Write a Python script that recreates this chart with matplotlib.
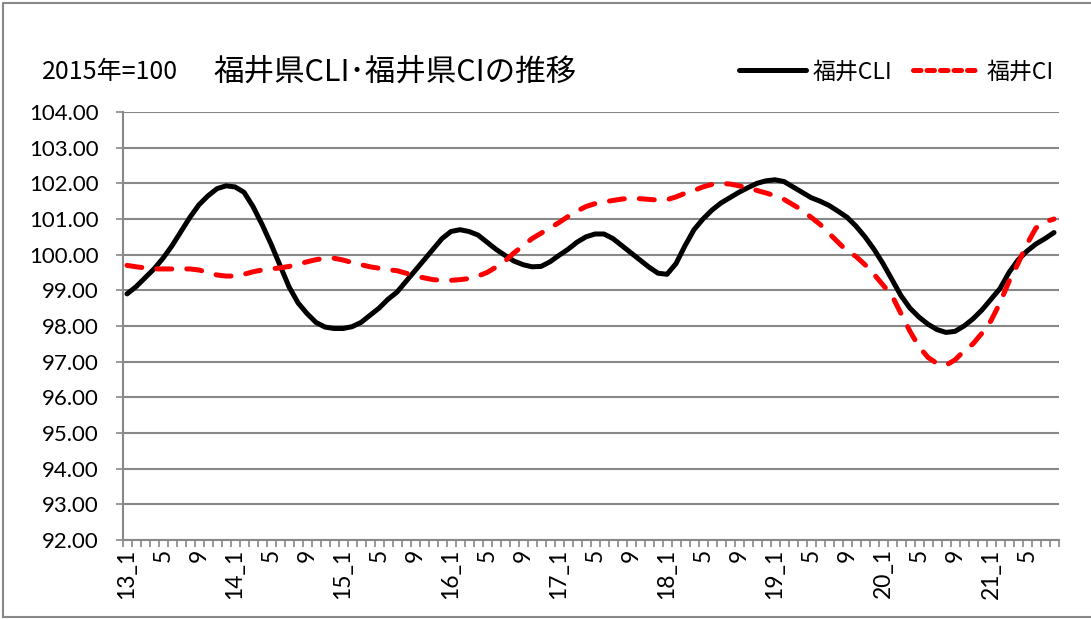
import matplotlib
matplotlib.use("Agg")
import matplotlib.pyplot as plt
from matplotlib.lines import Line2D
import numpy as np

plt.rcParams['font.family'] = ['Noto Sans CJK JP', 'DejaVu Sans']

# monthly, 2013_1 .. 2021_8
years = list(range(13, 22))
months = [f"{y}_{m}" for y in years for m in range(1, 13)][:104]

cli = [98.9, 99.1, 99.35, 99.6, 99.9, 100.25, 100.65, 101.05, 101.4, 101.65,
       101.85, 101.93, 101.9, 101.75, 101.35, 100.85, 100.3, 99.7, 99.1, 98.65,
       98.35, 98.1, 97.97, 97.93, 97.93, 97.98, 98.1, 98.3, 98.5, 98.75,
       98.95, 99.25, 99.55, 99.85, 100.15, 100.45, 100.65, 100.7, 100.65, 100.55,
       100.35, 100.15, 99.98, 99.82, 99.72, 99.66, 99.67, 99.8, 99.98, 100.15,
       100.35, 100.5, 100.58, 100.58, 100.45, 100.25, 100.05, 99.85, 99.65, 99.48,
       99.45, 99.75, 100.25, 100.7, 101.0, 101.25, 101.45, 101.6, 101.75, 101.88,
       102.0, 102.07, 102.1, 102.05, 101.9, 101.75, 101.6, 101.5, 101.38, 101.22,
       101.05, 100.8, 100.5, 100.15, 99.75, 99.3, 98.85, 98.5, 98.25, 98.05,
       97.9, 97.82, 97.85, 98.0, 98.2, 98.45, 98.75, 99.05, 99.5, 99.85,
       100.1, 100.3, 100.45, 100.62]

ci = [99.7, 99.66, 99.63, 99.6, 99.6, 99.6, 99.6, 99.6, 99.57, 99.5,
      99.43, 99.4, 99.4, 99.45, 99.52, 99.57, 99.6, 99.63, 99.67, 99.73,
      99.8, 99.86, 99.9, 99.9, 99.85, 99.78, 99.72, 99.66, 99.62, 99.58,
      99.55, 99.48, 99.4, 99.35, 99.3, 99.28, 99.28, 99.3, 99.33, 99.4,
      99.5, 99.65, 99.82, 100.05, 100.25, 100.45, 100.6, 100.75, 100.9, 101.07,
      101.22, 101.35, 101.43, 101.48, 101.52, 101.56, 101.58, 101.57, 101.55, 101.53,
      101.54, 101.62, 101.72, 101.8, 101.9, 101.97, 102.0, 101.98, 101.93, 101.87,
      101.8, 101.73, 101.65, 101.55, 101.4, 101.25, 101.05, 100.85, 100.6, 100.35,
      100.1, 99.95, 99.72, 99.45, 99.15, 98.85, 98.35, 97.85, 97.42, 97.12,
      96.95, 96.9, 97.05, 97.3, 97.5, 97.8, 98.15, 98.65, 99.25, 99.75,
      100.3, 100.75, 100.92, 101.0]

yticks = np.arange(92, 104.01, 1.0)

fig = plt.figure(figsize=(10.91, 6.19), dpi=100)
ax = fig.add_axes([122.5 / 1091, 1 - 540 / 619, 936 / 1091, 428 / 619])

x = np.arange(len(months))
ax.plot(x, cli, color='black', lw=3.6, solid_capstyle='round', solid_joinstyle='round', zorder=3)
ax.plot(x, ci, color='#ff0000', lw=3.6, linestyle=(0, (3, 3)), dash_capstyle='round', zorder=4)

tick_font = ['Lato', 'DejaVu Sans']
ax.set_xlim(-0.5, len(months) - 0.5)
ax.set_ylim(92, 104)
ax.set_yticks(yticks)
ax.set_yticklabels([f"{v:.2f}" for v in yticks], family=tick_font, fontsize=16)
ax.grid(axis='y', color='#888888', lw=1.5)
ax.set_axisbelow(True)

ax.set_xticks(np.arange(-0.5, len(months), 1))
ax.set_xticklabels([])
lab_pos = x[::4]
lab_txt = [m if m.endswith('_1') else m.split('_')[1] for m in months[::4]]
ax.set_xticks(lab_pos, minor=True)
ax.set_xticklabels(lab_txt, minor=True, rotation=90, family=tick_font, fontsize=16.5)
ax.tick_params(axis='x', which='major', length=5, width=1.2, color='#888888', direction='out')
ax.tick_params(axis='x', which='minor', length=0, pad=6)
ax.tick_params(axis='y', length=5, width=1.2, color='#888888', pad=12)

for s in ['top', 'right']:
    ax.spines[s].set_visible(False)
for s in ['left', 'bottom']:
    ax.spines[s].set_color('#888888')
    ax.spines[s].set_linewidth(1.5)

fig.text(42 / 1091, 1 - 72 / 619, "2015年=100", fontsize=18, va='center', ha='left')
fig.text(213 / 1091, 1 - 72 / 619, "福井県CLI･福井県CIの推移", fontsize=22, va='center', ha='left')

handles = [Line2D([], [], color='black', lw=3.6, solid_capstyle='round'),
           Line2D([], [], color='#ff0000', lw=3.6, linestyle=(0, (1.5, 1.2)), dash_capstyle='round')]
fig.legend(handles, ['福井CLI', '福井CI'], loc='center right', bbox_to_anchor=(1074 / 1091, 1 - 72 / 619),
           ncol=2, frameon=False, fontsize=16.5, handlelength=2.9, columnspacing=0.9, handletextpad=0.3)

# chart-area border
fig.add_artist(Line2D([3 / 1091, 3 / 1091, 1], [1 - 617 / 619, 1 - 3 / 619, 1 - 3 / 619],
                      color='#888888', lw=1.5, transform=fig.transFigure))
fig.add_artist(Line2D([3 / 1091, 1], [1 - 617 / 619, 1 - 617 / 619], color='#888888', lw=1.5,
                      transform=fig.transFigure))

fig.savefig('out.png', dpi=100)
